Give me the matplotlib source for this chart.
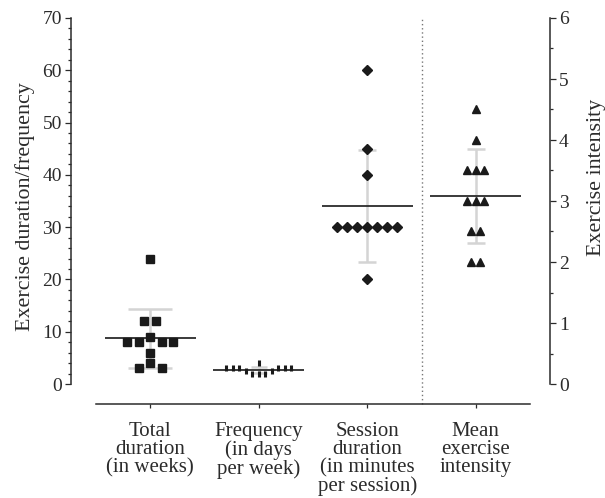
import numpy as np
import matplotlib.pyplot as plt
from matplotlib.ticker import MultipleLocator

plt.rcParams['font.family'] = ['Liberation Serif', 'DejaVu Serif']

# data
categories = ['Total\nduration\n(in weeks)', 'Frequency\n(in days\nper week)',
              'Session\nduration\n(in minutes\nper session)', 'Mean\nexercise\nintensity']
total_weeks = [24, 12, 12, 9, 8, 8, 8, 8, 6, 4, 3, 3]
days_per_week = [4, 3, 3, 3, 3, 3, 3, 2.5, 2.5, 2, 2, 2]
session_minutes = [60, 45, 40, 30, 30, 30, 30, 30, 30, 30, 20]
intensity = [4.5, 4, 3.5, 3.5, 3.5, 3, 3, 3, 2.5, 2.5, 2, 2]


def swarm(values, height):
    # simple dot-plot layout: single points take the centre, rows spread around
    vals = np.asarray(values, float)
    uniq, counts = np.unique(vals, return_counts=True)
    order = sorted(range(len(uniq)), key=lambda i: (counts[i] > 1, uniq[i]))
    placed = []
    slots = {}
    for i in order:
        v, n = uniq[i], counts[i]
        a = 0.0 if n % 2 else 0.5
        while True:
            if a == 0:
                cand = [0] + [s * k for k in range(1, n) for s in (-1, 1)]
            else:
                cand = [s * (a + k) for k in range(n) for s in (-1, 1)]
            cand = cand[:n]
            hit = any(abs(pv - v) < height and abs(ps - c) < 0.9
                      for ps, pv in placed for c in cand)
            if not hit:
                break
            a += 0.5
        placed += [(c, v) for c in cand]
        slots[v] = list(cand)
    return np.array([slots[v].pop(0) for v in vals])


fig = plt.figure(figsize=(6.05, 4.98), dpi=100)
ax = fig.add_axes([96 / 605, 114 / 498, 434 / 605, 366 / 498])
ax2 = ax.twinx()

dark = '#2b2b2b'
bar_col = '#d4d4d4'

groups = [
    (ax, total_weeks, 0.106, 1.8, dict(marker='s', ms=6.4), 16),
    (ax, days_per_week, 0.06, 1.15, dict(marker='|', ms=5, mew=2.2), 6),
    (ax, session_minutes, 0.092, 1.7, dict(marker='D', ms=5.4), 6.5),
    (ax2, intensity, 0.08, 0.12, dict(marker='^', ms=5.8), 6.5),
]
for i, (a, vals, step, h, mk, cap) in enumerate(groups):
    vals = np.asarray(vals, float)
    m = vals.mean()
    sd = vals.std(ddof=1)
    a.errorbar([i], [m], yerr=[sd], color=bar_col, lw=1.8, capsize=cap,
               capthick=1.8, zorder=1)
    a.hlines(m, i - 0.42, i + 0.42, color=dark, lw=1.3, zorder=2)
    xs = i + swarm(vals, h) * step
    a.plot(xs, vals, ls='none', color='#1a1a1a', mec='#1a1a1a', zorder=3, **mk)

ax.set_xlim(-0.5, 3.5)
ax.set_ylim(0, 70)
ax2.set_ylim(0, 6)

ax.axvline(2.5, ymin=-20 / 366, ymax=1, color='#777777', ls=(0, (1, 2)),
           lw=1, clip_on=False)

for s in ['top', 'right']:
    ax.spines[s].set_visible(False)
for s in ['top', 'left', 'bottom']:
    ax2.spines[s].set_visible(False)
ax.spines['left'].set_position(('outward', 18))
ax.spines['bottom'].set_position(('outward', 14.4))
ax2.spines['right'].set_position(('outward', 14.4))
for sp in [ax.spines['left'], ax.spines['bottom'], ax2.spines['right']]:
    sp.set_color(dark)
    sp.set_linewidth(1.1)

ax.set_yticks(range(0, 71, 10))
ax.yaxis.set_minor_locator(MultipleLocator(2))
ax2.set_yticks(range(0, 7))
ax2.yaxis.set_minor_locator(MultipleLocator(0.5))
ax.set_xticks(range(4))
ax.set_xticklabels(categories, fontsize=15, linespacing=0.94, color=dark)

for a in (ax, ax2):
    a.tick_params(axis='y', which='major', length=4, width=0.9, color=dark,
                  labelsize=14, labelcolor=dark, pad=2.5)
    a.tick_params(axis='y', which='minor', length=2.5, width=0.9, color=dark)
ax.tick_params(axis='x', length=3, width=0.9, color=dark, pad=10)

fig.text(25 / 605, 0.586, 'Exercise duration/frequency', rotation=90,
         ha='center', va='center', fontsize=15.8, color=dark)
fig.text(597 / 605, 0.643, 'Exercise intensity', rotation=90,
         ha='center', va='center', fontsize=15.8, color=dark)

fig.savefig('out.png', dpi=100)
